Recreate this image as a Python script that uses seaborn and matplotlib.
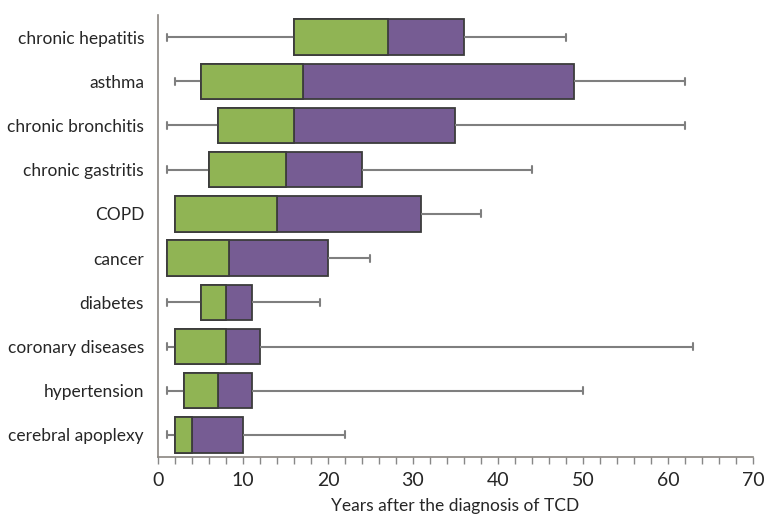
import numpy as np
import pandas as pd
import matplotlib
matplotlib.use("Agg")
import matplotlib.pyplot as plt
import seaborn as sns
from matplotlib.ticker import MultipleLocator

diseases = ["chronic hepatitis", "asthma", "chronic bronchitis", "chronic gastritis",
            "COPD", "cancer", "diabetes", "coronary diseases", "hypertension",
            "cerebral apoplexy"]
mins = [1, 2, 1, 1, 2, 1, 1, 1, 1, 1]
q1 = [16, 5, 7, 6, 2, 1, 5, 2, 3, 2]
medians = [27, 17, 16, 15, 14, 8.4, 8, 8, 7, 4]
q3 = [36, 49, 35, 24, 31, 20, 11, 12, 11, 10]
maxs = [48, 62, 62, 44, 38, 25, 19, 63, 50, 22]
xticks = [0, 10, 20, 30, 40, 50, 60, 70]
xlabel = "Years after the diagnosis of TCD"

green = "#90b454"
purple = "#765c93"
edge = "#3c3c3c"
whisk = "#7f7f7f"

sns.set_style("ticks")
plt.rcParams["font.family"] = ["Lato", "DejaVu Sans"]

rows = []
for d, a, b, c, e, f in zip(diseases, mins, q1, medians, q3, maxs):
    for v in (a, b, c, e, f):
        rows.append({"disease": d, "years": v})
df = pd.DataFrame(rows)

fig = plt.figure(figsize=(7.69, 5.17), dpi=100)
ax = fig.add_axes([158 / 769, 60 / 517, 595 / 769, 442 / 517])

sns.boxplot(data=df, x="years", y="disease", order=diseases, orient="h",
            whis=(0, 100), width=0.8, saturation=1, color=purple,
            showfliers=False, linewidth=1.3, ax=ax,
            boxprops={"facecolor": purple, "edgecolor": edge},
            medianprops={"color": edge},
            whiskerprops={"color": whisk, "linewidth": 1.5},
            capprops={"color": whisk, "linewidth": 1.5},
            capwidths=0.16)

pos = np.arange(len(diseases))
ax.barh(pos, np.array(medians) - np.array(q1), left=q1, height=0.8,
        color=green, edgecolor=edge, linewidth=1.3, zorder=3)

ax.set_xlim(0, 70)
ax.set_ylim(len(diseases) - 0.5, -0.5)
ax.set_xticks(xticks)
ax.xaxis.set_minor_locator(MultipleLocator(2))
ax.tick_params(axis="x", which="both", length=5, width=1, color="#888888",
               labelsize=14, pad=6)
ax.tick_params(axis="y", length=0, labelsize=12.5, pad=10)
ax.set_xlabel(xlabel, fontsize=12.5, labelpad=6)
ax.set_ylabel("")
for s in ("top", "right"):
    ax.spines[s].set_visible(False)
for s in ("left", "bottom"):
    ax.spines[s].set_color("#8a8580")
    ax.spines[s].set_linewidth(1.2)

fig.savefig("out.png", dpi=100)
